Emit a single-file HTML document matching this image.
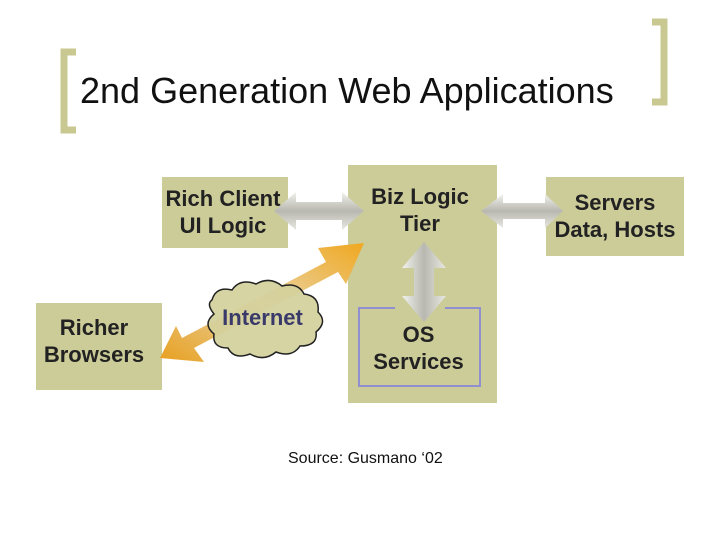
<!DOCTYPE html>
<html><head><meta charset="utf-8"><style>
body{margin:0;width:720px;height:540px;background:#fff;overflow:hidden;position:relative;font-family:"Liberation Sans",sans-serif}
.t{position:absolute;color:#222;font-weight:bold;text-align:center;font-size:22px;line-height:27px;white-space:nowrap}
</style></head><body>
<svg width="720" height="540" style="position:absolute;left:0;top:0">
<defs>
<linearGradient id="g" x1="0" y1="0" x2="0" y2="1"><stop offset="0" stop-color="#f2f2ee"/><stop offset="0.5" stop-color="#b8b8b0"/><stop offset="1" stop-color="#e8e8e2"/></linearGradient>
<linearGradient id="gv" x1="0" y1="0" x2="1" y2="0"><stop offset="0" stop-color="#f2f2ee"/><stop offset="0.5" stop-color="#b8b8b0"/><stop offset="1" stop-color="#e8e8e2"/></linearGradient>
<linearGradient id="o" x1="0" y1="1" x2="1" y2="0"><stop offset="0" stop-color="#e8a020"/><stop offset="0.5" stop-color="#e9d4a8"/><stop offset="1" stop-color="#f0a820"/></linearGradient>
</defs>
<path d="M76 52 H64 V130 H76" fill="none" stroke="#c8c890" stroke-width="7"/>
<path d="M652 22 H664 V102 H652" fill="none" stroke="#c8c890" stroke-width="7"/>
<rect x="162" y="177" width="126" height="71" fill="#cccc99"/>
<rect x="36" y="303" width="126" height="87" fill="#cccc99"/>
<rect x="348" y="165" width="149" height="238" fill="#cccc99"/>
<rect x="546" y="177" width="138" height="79" fill="#cccc99"/>
<rect x="359" y="308" width="121" height="78" fill="none" stroke="#9090d0" stroke-width="2"/>
<rect x="395" y="300" width="50" height="14" fill="#cccc99"/>
<polygon points="274,211 296,192 296,202 342,202 342,192 364,211 342,230 342,220 296,220 296,230" fill="url(#g)"/>
<polygon points="481,211 503,194 503,203 545,203 545,194 563,211 545,228 545,219 503,219 503,228" fill="url(#g)"/>
<polygon points="424,242 446,268 434,268 434,296 446,296 424,322 402,296 414,296 414,268 402,268" fill="url(#gv)"/>
<polygon points="160,358 176,326 182,338 326,262 318,248 364,243 346,284 338,272 194,348 204,362" fill="url(#o)"/>
<path d="M212 300 q4-14 20-10 q8-12 24-6 q14-8 26 2 q16-4 22 8 q16 2 14 18 q10 10-2 20 q2 14-16 14 q-8 12-24 6 q-12 10-26 2 q-16 6-22-6 q-16 0-14-14 q-12-10 0-20 q-8-10 -2-14z" fill="#d4d09c" fill-opacity="0.92" stroke="#222" stroke-width="1.5"/>
</svg>
<div style="position:absolute;left:80px;top:70px;font-size:36px;color:#111;white-space:nowrap">2nd Generation Web Applications</div>
<div class="t" style="left:158px;top:185px;width:130px">Rich Client<br>UI Logic</div>
<div class="t" style="left:36px;top:314px;width:116px">Richer<br>Browsers</div>
<div class="t" style="left:350px;top:183px;width:140px">Biz Logic<br>Tier</div>
<div class="t" style="left:356px;top:321px;width:125px">OS<br>Services</div>
<div class="t" style="left:546px;top:189px;width:138px">Servers<br>Data, Hosts</div>
<div class="t" style="left:205px;top:304px;width:115px;color:#3a3a6a;font-size:22px">Internet</div>
<div style="position:absolute;left:288px;top:450px;font-size:16px;color:#111">Source: Gusmano ‘02</div>
</body></html>
